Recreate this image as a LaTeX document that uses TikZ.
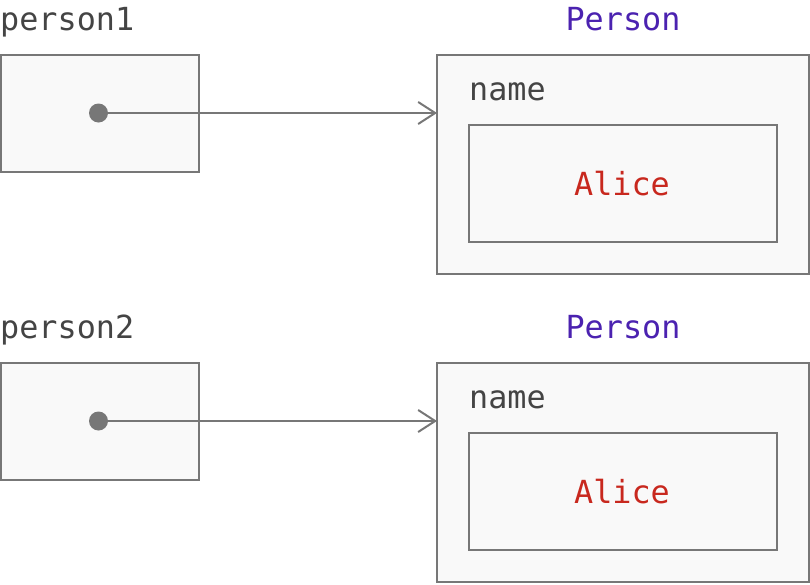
\documentclass[tikz,border=0pt]{standalone}
\usepackage{fontspec}
\setmainfont{DejaVu Sans Mono}
\usetikzlibrary{arrows.meta}
\definecolor{txtgray}{HTML}{444444}
\definecolor{boxline}{HTML}{777777}
\definecolor{boxfill}{HTML}{F9F9F9}
\definecolor{clsname}{HTML}{4B22B0}
\definecolor{strval}{HTML}{C8281E}
\tikzset{
  box/.style={draw=boxline, fill=boxfill, line width=2pt, rectangle, inner sep=0pt, outer sep=0pt},
  lbl/.style={font=\fontsize{31.8}{32}\selectfont, text=txtgray, inner sep=0pt},
  dotnode/.style={circle, fill=boxline, minimum size=19pt, inner sep=0pt},
  ptr/.style={draw=boxline, line width=2pt, -{Straight Barb[length=17pt,width=22pt,line width=2pt]}},
}
\begin{document}
\begin{tikzpicture}[x=1pt,y=-1pt]
\useasboundingbox (0,0) rectangle (810,584);
\foreach \i/\dy in {1/0,2/308}{
  \node[box, minimum width=198pt, minimum height=117pt] (v\i) at (100,113.5+\dy) {};
  \node[box, minimum width=372pt, minimum height=219pt] (o\i) at (623,164.5+\dy) {};
  \node[box, minimum width=308pt, minimum height=117pt] (in\i) at (623,183.5+\dy) {};
  \node[lbl, anchor=base west] (vn\i) at (0,30+\dy) {person\i};
  \node[lbl, anchor=base, text=clsname] (cn\i) at (623,30+\dy) {Person};
  \node[lbl, anchor=base west] (fn\i) at (469,100+\dy) {name};
  \node[lbl, anchor=base, text=strval] (sv\i) at (622,195+\dy) {Alice};
  \node[dotnode] (d\i) at (98.5,113+\dy) {};
  \draw[ptr] (d\i.center) -- (d\i -| o\i.west);
}
\end{tikzpicture}
\end{document}
